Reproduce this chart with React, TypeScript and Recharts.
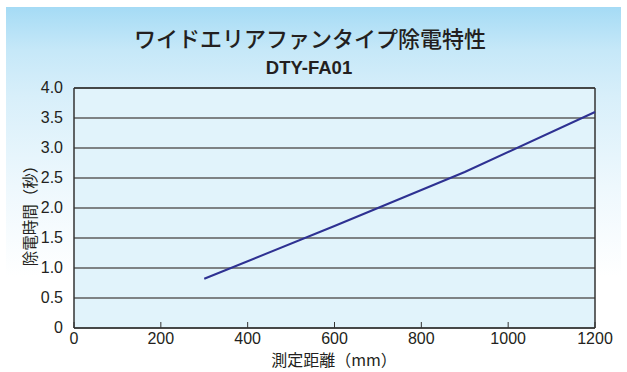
import React from 'react';
import { LineChart, Line, XAxis, YAxis, CartesianGrid, ReferenceLine } from 'recharts';

// measurement distance (mm) and discharge time (s)
const distances = [300, 600, 900, 1200];
const seconds = [0.82, 1.7, 2.6, 3.6];

const xTicks = [0, 200, 400, 600, 800, 1000, 1200];
const yTicks = [0, 0.5, 1, 1.5, 2, 2.5, 3, 3.5, 4];

const title = 'ワイドエリアファンタイプ除電特性';
const subtitle = 'DTY-FA01';
const xLabel = '測定距離（mm）';
const yLabel = '除電時間（秒）';

const data = distances.map((d, i) => ({ distance: d, time: seconds[i] }));

const sans = '"Liberation Sans", Arial, Helvetica, sans-serif';
const jp = '"Noto Sans CJK JP", "Noto Sans", sans-serif';

const App = () => {
  return (
    <div style={{ position: 'absolute', left: 0, top: 0, width: 627, height: 372, background: '#fff' }}>
      <div
        style={{
          position: 'absolute',
          left: 6,
          top: 7,
          width: 615,
          height: 360,
          background: 'linear-gradient(to bottom, #a5dbf5 0%, #c6e8f8 12%, #d8effa 25%, #eef8fd 50%, #ffffff 75%)',
        }}
      />
      <div
        style={{
          position: 'absolute',
          left: 0,
          top: 22,
          width: 620,
          textAlign: 'center',
          fontFamily: jp,
          fontSize: 22,
          fontWeight: 500,
          lineHeight: '30px',
          color: '#231f20',
        }}
      >
        {title}
      </div>
      <div
        style={{
          position: 'absolute',
          left: 0,
          top: 57,
          width: 618,
          textAlign: 'center',
          fontFamily: sans,
          fontWeight: 'bold',
          fontSize: 18.5,
          lineHeight: '22px',
          color: '#231f20',
        }}
      >
        {subtitle}
      </div>
      <div
        style={{
          position: 'absolute',
          left: 0,
          top: 352,
          width: 668,
          textAlign: 'center',
          fontFamily: jp,
          fontSize: 16,
          lineHeight: '14px',
          color: '#231f20',
        }}
      >
        {xLabel}
      </div>
      <div
        style={{
          position: 'absolute',
          left: 29,
          top: 212,
          transform: 'translate(-50%, -50%) rotate(-90deg)',
          whiteSpace: 'nowrap',
          fontFamily: jp,
          fontSize: 15.5,
          lineHeight: '18px',
          color: '#231f20',
        }}
      >
        {yLabel}
      </div>
      <div style={{ position: 'absolute', left: 0, top: 0 }}>
        <LineChart width={627} height={372} data={data} margin={{ top: 88, right: 32, bottom: 0, left: 0 }}>
          <CartesianGrid vertical={false} fill="#e1f3fb" fillOpacity={1} stroke="#5c5c5c" strokeWidth={1.3} />
          <XAxis
            dataKey="distance"
            type="number"
            domain={[0, 1200]}
            ticks={xTicks}
            tickSize={-6}
            tickMargin={11}
            tickLine={{ stroke: '#333' }}
            axisLine={{ stroke: '#333', strokeWidth: 1.5 }}
            tick={{ fill: '#231f20', fontSize: 16, fontFamily: sans }}
            height={44}
          />
          <YAxis
            type="number"
            domain={[0, 4]}
            ticks={yTicks}
            width={74}
            tickLine={false}
            tickSize={0}
            tickMargin={11}
            axisLine={{ stroke: '#333', strokeWidth: 1.5 }}
            tick={{ fill: '#231f20', fontSize: 16, fontFamily: sans, dy: -1 }}
            tickFormatter={(v: number) => (v === 0 ? '0' : v.toFixed(1))}
          />
          <ReferenceLine y={4} stroke="#333" strokeWidth={1.5} />
          <ReferenceLine x={1200} stroke="#333" strokeWidth={1.5} />
          <Line
            type="linear"
            dataKey="time"
            stroke="#2e3192"
            strokeWidth={2}
            dot={false}
            isAnimationActive={false}
          />
        </LineChart>
      </div>
    </div>
  );
};

export default App;
